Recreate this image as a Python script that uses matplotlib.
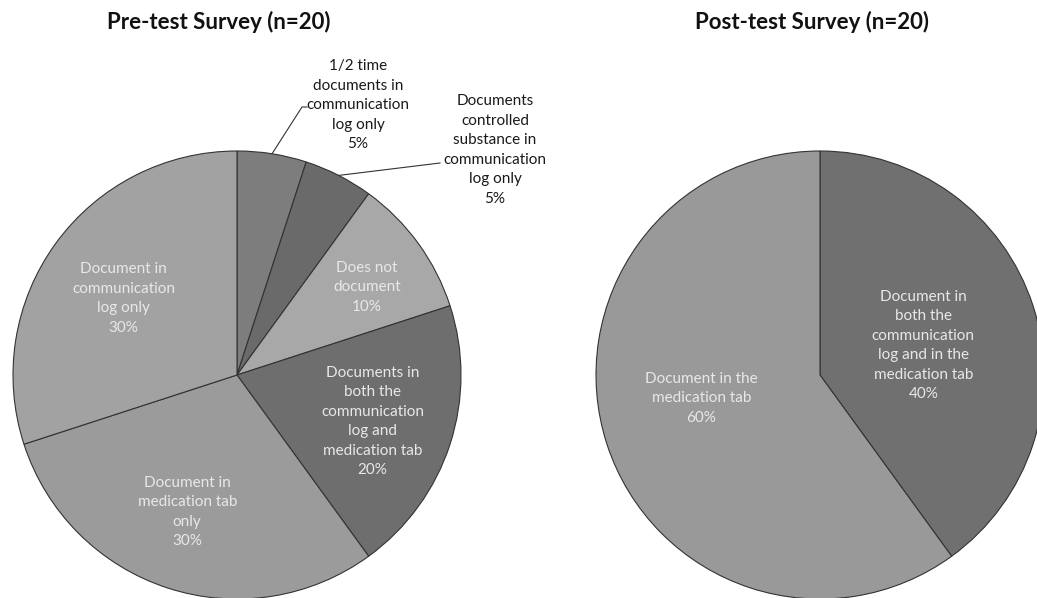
import numpy as np
import matplotlib
matplotlib.use("Agg")
import matplotlib.pyplot as plt

plt.rcParams['font.family'] = ['Lato', 'DejaVu Sans']

# data
pre_labels = ["1/2 time\ndocuments in\ncommunication\nlog only",
              "Documents\ncontrolled\nsubstance in\ncommunication\nlog only",
              "Does not\ndocument",
              "Documents in\nboth the\ncommunication\nlog and\nmedication tab",
              "Document in\nmedication tab\nonly",
              "Document in\ncommunication\nlog only"]
pre_values = [5, 5, 10, 20, 30, 30]
pre_colors = ["#7d7d7d", "#6a6a6a", "#a8a8a8", "#6e6e6e", "#9b9b9b", "#a2a2a2"]

post_labels = ["Document in\nboth the\ncommunication\nlog and in the\nmedication tab",
               "Document in the\nmedication tab"]
post_values = [40, 60]
post_colors = ["#707070", "#999999"]

W, H = 1037, 598
fig = plt.figure(figsize=(W / 100, H / 100), dpi=100)
ax = fig.add_axes([0, 0, 1, 1])

R = 224
c_pre = (237, H - 375)
c_post = (820, H - 375)

edge = dict(edgecolor="#333333", linewidth=0.8)
w_pre, _ = ax.pie(pre_values, colors=pre_colors, startangle=90, counterclock=False,
                  center=c_pre, radius=R, wedgeprops=edge)
w_post, _ = ax.pie(post_values, colors=post_colors, startangle=90, counterclock=False,
                   center=c_post, radius=R, wedgeprops=edge)

ax.set_xlim(0, W)
ax.set_ylim(0, H)
ax.set_aspect("equal")
ax.axis("off")

fs = 11
inner = dict(ha="center", va="center", fontsize=fs, color="#e8e8e8", linespacing=1.5)
outer = dict(ha="center", va="center", fontsize=fs, color="#1a1a1a", linespacing=1.5)


def pct(v, vals):
    return f"{round(100 * v / sum(vals))}%"


# inside labels: (index, angle, distance as fraction of radius)
pre_inner = [(2, 34, 0.70), (3, -19, 0.64), (4, -110, 0.65), (5, 146, 0.61)]
for i, ang, d in pre_inner:
    x = c_pre[0] + d * R * np.cos(np.radians(ang))
    y = c_pre[1] + d * R * np.sin(np.radians(ang))
    ax.text(x, y, pre_labels[i] + "\n" + pct(pre_values[i], pre_values), **inner)

# outside labels with leader lines
pre_outer = [(0, (121, 270), (65, 268), (70, 268)),
             (1, (258, 225), (203, 212), (203, 212))]
for i, off, knee, end in pre_outer:
    w = w_pre[i]
    mid = np.radians((w.theta1 + w.theta2) / 2)
    ex = c_pre[0] + R * np.cos(mid)
    ey = c_pre[1] + R * np.sin(mid)
    ax.plot([ex, c_pre[0] + knee[0], c_pre[0] + end[0]],
            [ey, c_pre[1] + knee[1], c_pre[1] + end[1]],
            color="#333333", linewidth=0.8)
    ax.text(c_pre[0] + off[0], c_pre[1] + off[1],
            pre_labels[i] + "\n" + pct(pre_values[i], pre_values), **outer)

post_inner = [(0, 16, 0.48), (1, -169, 0.54)]
for i, ang, d in post_inner:
    x = c_post[0] + d * R * np.cos(np.radians(ang))
    y = c_post[1] + d * R * np.sin(np.radians(ang))
    ax.text(x, y, post_labels[i] + "\n" + pct(post_values[i], post_values), **inner)

ax.text(219, H - 22, "Pre-test Survey (n=20)", ha="center", va="center",
        fontsize=16, fontweight="bold", color="#111111")
ax.text(812, H - 22, "Post-test Survey (n=20)", ha="center", va="center",
        fontsize=16, fontweight="bold", color="#111111")

fig.savefig("out.png", dpi=100)
